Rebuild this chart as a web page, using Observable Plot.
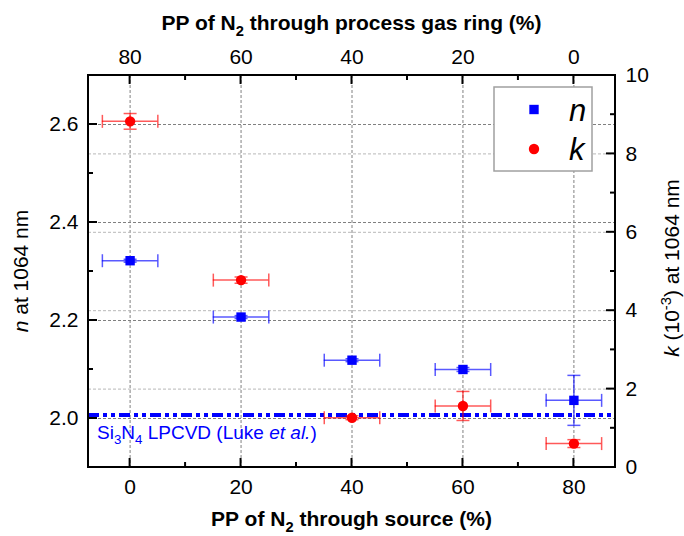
<!DOCTYPE html>
<html><head><meta charset="utf-8">
<script src="https://cdn.jsdelivr.net/npm/d3@7"></script>
<script src="https://cdn.jsdelivr.net/npm/@observablehq/plot@0.6"></script>
<style>
body{margin:0;background:#fff}
</style>
</head><body><div id="chart"></div>
<script>
// ---- data ----
const sourcePP = [0, 20, 40, 60, 80];          // PP of N2 through source (%)
const nValues  = [2.322, 2.207, 2.119, 2.100, 2.037];
const nErr     = [0.003, 0.003, 0.003, 0.004, 0.051];
const kValues  = [8.83, 4.78, 1.27, 1.57, 0.61];   // k (10^-3)
const kErr     = [0.20, 0.08, 0.05, 0.37, 0.10];
const xErr     = [5, 5, 5, 5, 5];
const lpcvdN   = 2.007;                          // Si3N4 LPCVD (Luke et al.)
const xTicks   = [0, 20, 40, 60, 80];
const xMinor   = [10, 30, 50, 70];
const nTicks   = [2.0, 2.2, 2.4, 2.6];
const nMinor   = [2.1, 2.3, 2.5];
const kTicks   = [0, 2, 4, 6, 8, 10];
const kMinor   = [1, 3, 5, 7, 9];
const ringTotal = 80;                            // top axis = 80 - source

// map k (0..10) onto the n scale (1.9..2.7)
const nMin = 1.9, nMax = 2.7, kMax = 10;
const kToY = k => nMin + k * (nMax - nMin) / kMax;
const yToK = y => Math.round((y - nMin) * kMax / (nMax - nMin));

const nData = sourcePP.map((x, i) => ({x, y: nValues[i], lo: nValues[i] - nErr[i], hi: nValues[i] + nErr[i], xl: x - xErr[i], xh: x + xErr[i]}));
const kData = sourcePP.map((x, i) => ({x, y: kToY(kValues[i]), lo: kToY(kValues[i] - kErr[i]), hi: kToY(kValues[i] + kErr[i]), xl: x - xErr[i], xh: x + xErr[i]}));

const BLUE = "#0000ff", RED = "#ff0000";
const vcap = {draw(ctx, size) {const r = Math.sqrt(size / Math.PI); ctx.moveTo(0, -r); ctx.lineTo(0, r);}};
const hcap = {draw(ctx, size) {const r = Math.sqrt(size / Math.PI); ctx.moveTo(-r, 0); ctx.lineTo(r, 0);}};

function errMarks(data, color) {
  const s = {stroke: color, strokeOpacity: 0.65, strokeWidth: 1.5};
  return [
    Plot.ruleY(data, {y: "y", x1: "xl", x2: "xh", ...s}),
    Plot.ruleX(data, {x: "x", y1: "lo", y2: "hi", ...s}),
    Plot.dot(data, {x: "xl", y: "y", symbol: vcap, r: 6.5, fill: "none", ...s}),
    Plot.dot(data, {x: "xh", y: "y", symbol: vcap, r: 6.5, fill: "none", ...s}),
    Plot.dot(data, {x: "x", y: "lo", symbol: hcap, r: 6.5, fill: "none", ...s}),
    Plot.dot(data, {x: "x", y: "hi", symbol: hcap, r: 6.5, fill: "none", ...s})
  ];
}

const FONT = "'Liberation Sans', Arial, Helvetica, sans-serif";
const labStyle = {tickSize: 0, label: null};

const chart = Plot.plot({
  width: 684, height: 536,
  marginLeft: 88, marginRight: 69, marginTop: 75, marginBottom: 69,
  style: {fontFamily: FONT, fontSize: "21px", color: "#000", background: "#fff"},
  x: {domain: [-7.5, 87.5]},
  y: {domain: [nMin, nMax]},
  marks: [
    Plot.gridX(xTicks, {stroke: "#808080", strokeOpacity: 1, strokeDasharray: "3,2"}),
    Plot.gridY(kTicks.filter(k => k > 0 && k < 10).map(kToY), {stroke: "#b8b8b8", strokeOpacity: 1, strokeDasharray: "3,2"}),
    Plot.gridY(nTicks, {stroke: "#808080", strokeOpacity: 1, strokeDasharray: "3,2"}),
    Plot.ruleY([lpcvdN], {stroke: BLUE, strokeWidth: 4, strokeDasharray: "11,4,4,4,4,4"}),
    ...errMarks(nData, BLUE),
    ...errMarks(kData, RED),
    Plot.dot(nData, {x: "x", y: "y", symbol: "square", r: 5.3, fill: BLUE}),
    Plot.dot(kData, {x: "x", y: "y", symbol: "circle", r: 5.2, fill: RED}),
    // tick labels
    Plot.axisX(xTicks, {anchor: "bottom", tickPadding: 12, ...labStyle}),
    Plot.axisX(xTicks, {anchor: "top", tickPadding: 12, tickFormat: d => ringTotal - d, ...labStyle}),
    Plot.axisY(nTicks, {anchor: "left", tickPadding: 10, tickFormat: d => d.toFixed(1), ...labStyle}),
    Plot.axisY(kTicks.map(kToY), {anchor: "right", tickPadding: 10, tickFormat: yToK, ...labStyle})
  ]
});
document.getElementById("chart").appendChild(chart);

const svg = d3.select(chart);
const sx = chart.scale("x"), sy = chart.scale("y");
const [X0, X1] = sx.range, [Y0, Y1] = sy.range; // Y0 bottom, Y1 top

// ---- inward ticks via the plot's own scales ----
const tg = svg.append("g").attr("stroke", "#000").attr("stroke-width", 2).attr("fill", "none");
function tickLines(values, scale, len, side) {
  for (const v of values) {
    const p = scale.apply(v);
    let d;
    if (side === "bottom") d = `M${p},${Y0}V${Y0 - len}`;
    if (side === "top") d = `M${p},${Y1}V${Y1 + len}`;
    if (side === "left") d = `M${X0},${p}H${X0 + len}`;
    if (side === "right") d = `M${X1},${p}H${X1 - len}`;
    tg.append("path").attr("d", d);
  }
}
tickLines(xTicks, sx, 9, "bottom"); tickLines(xMinor, sx, 5, "bottom");
tickLines(xTicks, sx, 9, "top");    tickLines(xMinor, sx, 5, "top");
tickLines(nTicks, sy, 9, "left");   tickLines(nMinor, sy, 5, "left");
tickLines(kTicks.map(kToY), sy, 9, "right"); tickLines(kMinor.map(kToY), sy, 5, "right");
// frame
svg.append("rect").attr("x", X0).attr("y", Y1).attr("width", X1 - X0).attr("height", Y0 - Y1)
  .attr("fill", "none").attr("stroke", "#000").attr("stroke-width", 2);

// ---- rich text annotations ----
function rich(x, y, parts, attrs = {}) {
  const t = svg.append("text").attr("x", x).attr("y", y).attr("font-family", FONT)
    .attr("text-anchor", "start").attr("fill", "#000");
  for (const [k, v] of Object.entries(attrs)) t.attr(k, v);
  for (const p of parts) {
    const s = t.append("tspan").text(p.t);
    if (p.i) s.attr("font-style", "italic");
    if (p.sub) s.attr("font-size", "0.7em").attr("dy", p.sub);
    if (p.back) s.attr("dy", p.back);
  }
  return t;
}
const cx = (X0 + X1) / 2;
rich(cx, 30, [{t: "PP of N"}, {t: "2", sub: "6"}, {t: " through process gas ring (%)", back: "-6"}],
  {"text-anchor": "middle", "font-weight": "bold", "font-size": 21});
rich(cx, 526, [{t: "PP of N"}, {t: "2", sub: "6"}, {t: " through source (%)", back: "-6"}],
  {"text-anchor": "middle", "font-weight": "bold", "font-size": 21});
rich(0, 0, [{t: "n", i: true}, {t: " at 1064 nm"}],
  {"text-anchor": "middle", "font-size": 21, "transform": "translate(28,271) rotate(-90)"});
rich(0, 0, [{t: "k", i: true}, {t: " (10"}, {t: "-3", sub: "-8"}, {t: ") at 1064 nm", back: "8"}],
  {"text-anchor": "middle", "font-size": 21, "transform": "translate(679,268) rotate(-90)"});
rich(X0 + 9, 439, [{t: "Si"}, {t: "3", sub: "5"}, {t: "N", back: "-5"}, {t: "4", sub: "5"}, {t: " LPCVD (Luke ", back: "-5"}, {t: "et al.", i: true}, {t: ")"}],
  {"font-size": 19, fill: BLUE});

// legend
const lg = svg.append("g");
lg.append("rect").attr("x", 494).attr("y", 87).attr("width", 98).attr("height", 84)
  .attr("fill", "#fff").attr("stroke", "#a0a0a0").attr("stroke-width", 1.5);
const legendItems = [{name: "n", color: BLUE, sym: d3.symbolSquare, y: 109.5}, {name: "k", color: RED, sym: d3.symbolCircle, y: 149}];
for (const it of legendItems) {
  lg.append("path").attr("transform", `translate(534,${it.y})`)
    .attr("d", d3.symbol(it.sym, it.sym === d3.symbolSquare ? 88 : 85)()).attr("fill", it.color);
  lg.append("text").attr("x", 569).attr("y", it.y + 11).attr("font-family", FONT)
    .attr("text-anchor", "start").attr("font-size", 31).attr("font-style", "italic").text(it.name);
}
</script>
</body></html>
